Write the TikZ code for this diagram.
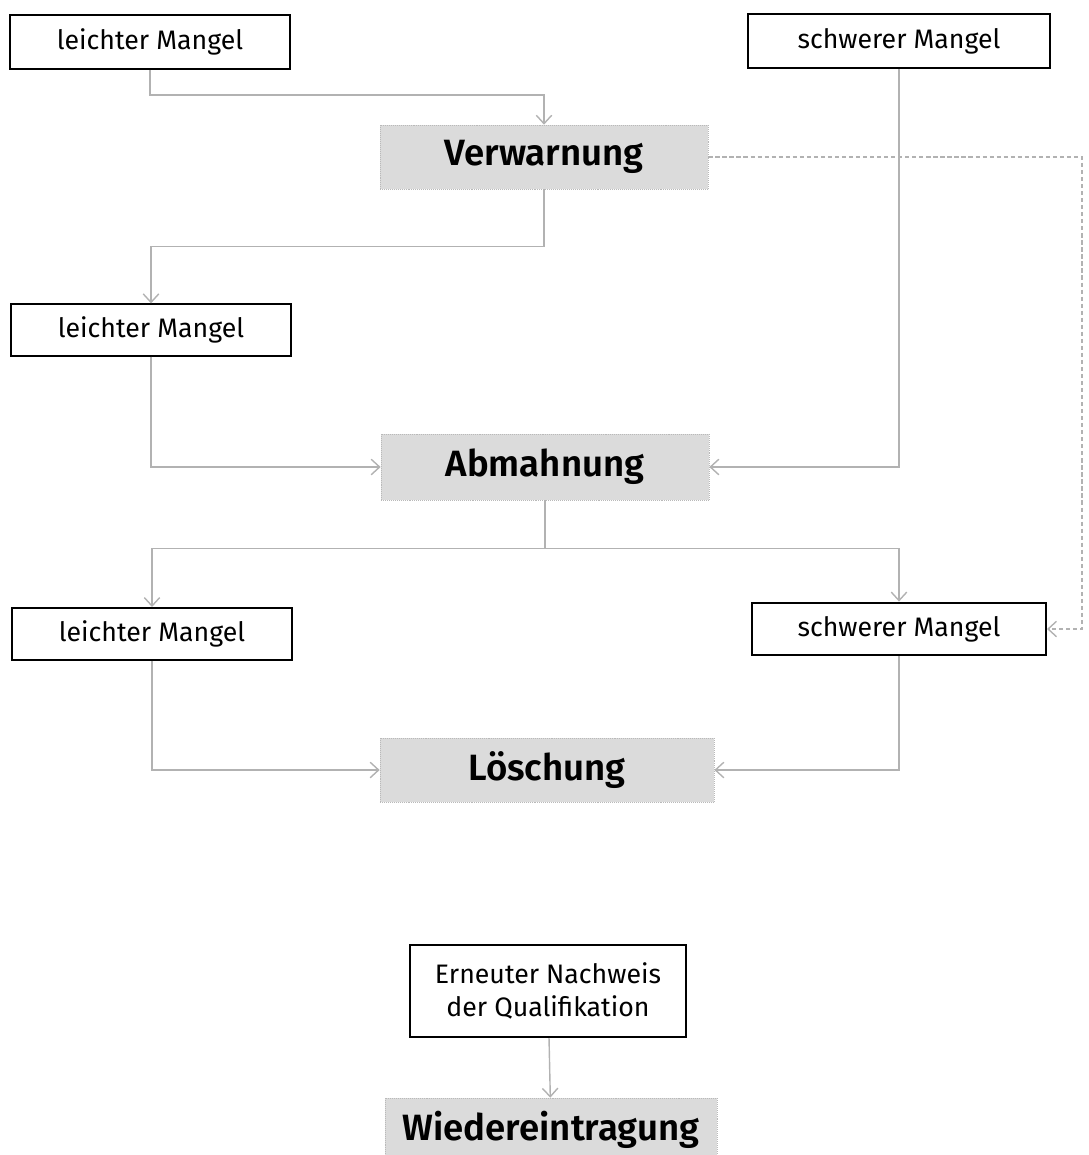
\documentclass[tikz,border=0pt]{standalone}
\usepackage{fontspec}
\setmainfont{Fira Sans}[BoldFont={Fira Sans SemiBold}]
\usetikzlibrary{arrows.meta}
\begin{document}
\begin{tikzpicture}[x=0.025cm,y=-0.025cm,>={Straight Barb[length=6pt,width=11pt]}]
  \tikzstyle{mangel}=[draw, line width=1.4pt, minimum width=7cm, minimum height=1.35cm,
    inner sep=0pt, align=center, font=\fontsize{19}{23.5}\selectfont]
  \tikzstyle{stufe}=[draw=gray!55, densely dotted, fill=gray!28, minimum width=8.2cm,
    minimum height=1.6cm, inner sep=0pt, font=\fontsize{26}{30}\selectfont\bfseries]
  \tikzstyle{line}=[->, draw=gray!60, line width=1pt]
  \tikzstyle{hinweis}=[->, draw=gray!60, line width=1pt, dash pattern=on 3pt off 2pt]

  \clip (0,0) rectangle (1088,1155);

  \node[mangel] (lm1) at (150,42) {leichter Mangel};
  \node[mangel, minimum width=7.55cm] (sm1) at (899,41) {schwerer Mangel};
  \node[stufe] (verw) at (544,157) {Verwarnung};
  \node[mangel, minimum height=1.28cm] (lm2) at (151,330) {leichter Mangel};
  \node[stufe, minimum height=1.65cm] (abm) at (545,467) {Abmahnung};
  \node[mangel, minimum height=1.3cm] (lm3) at (152,634) {leichter Mangel};
  \node[mangel, minimum width=7.35cm, minimum height=1.32cm] (sm3) at (899,629) {schwerer Mangel};
  \node[stufe, minimum width=8.35cm] (loesch) at (547,770) {Löschung};
  \node[mangel, minimum width=6.9cm, minimum height=2.3cm] (nachweis) at (548,991) {Erneuter Nachweis\\der Qualifikation};
  \node[stufe, minimum width=8.3cm] (wieder) at (551,1130) {Wiedereintragung};
  \coordinate (ecke) at (1082,400);

  \draw[line] (lm1.south) -- ++(0,25) -| (verw.north);
  \draw[line] (sm1.south) |- (abm.east);
  \draw[line] (verw.south) -- ++(0,57) -| (lm2.north);
  \draw[hinweis] (verw.east) -| (ecke) |- (sm3.east);
  \draw[line] (lm2.south) |- (abm.west);
  \draw[line] (abm.south) -- ++(0,48) -| (lm3.north);
  \draw[line] (abm.south) -- ++(0,48) -| (sm3.north);
  \draw[line] (lm3.south) |- (loesch.west);
  \draw[line] (sm3.south) |- (loesch.east);
  \draw[line] (nachweis) -- (wieder);
\end{tikzpicture}
\end{document}
